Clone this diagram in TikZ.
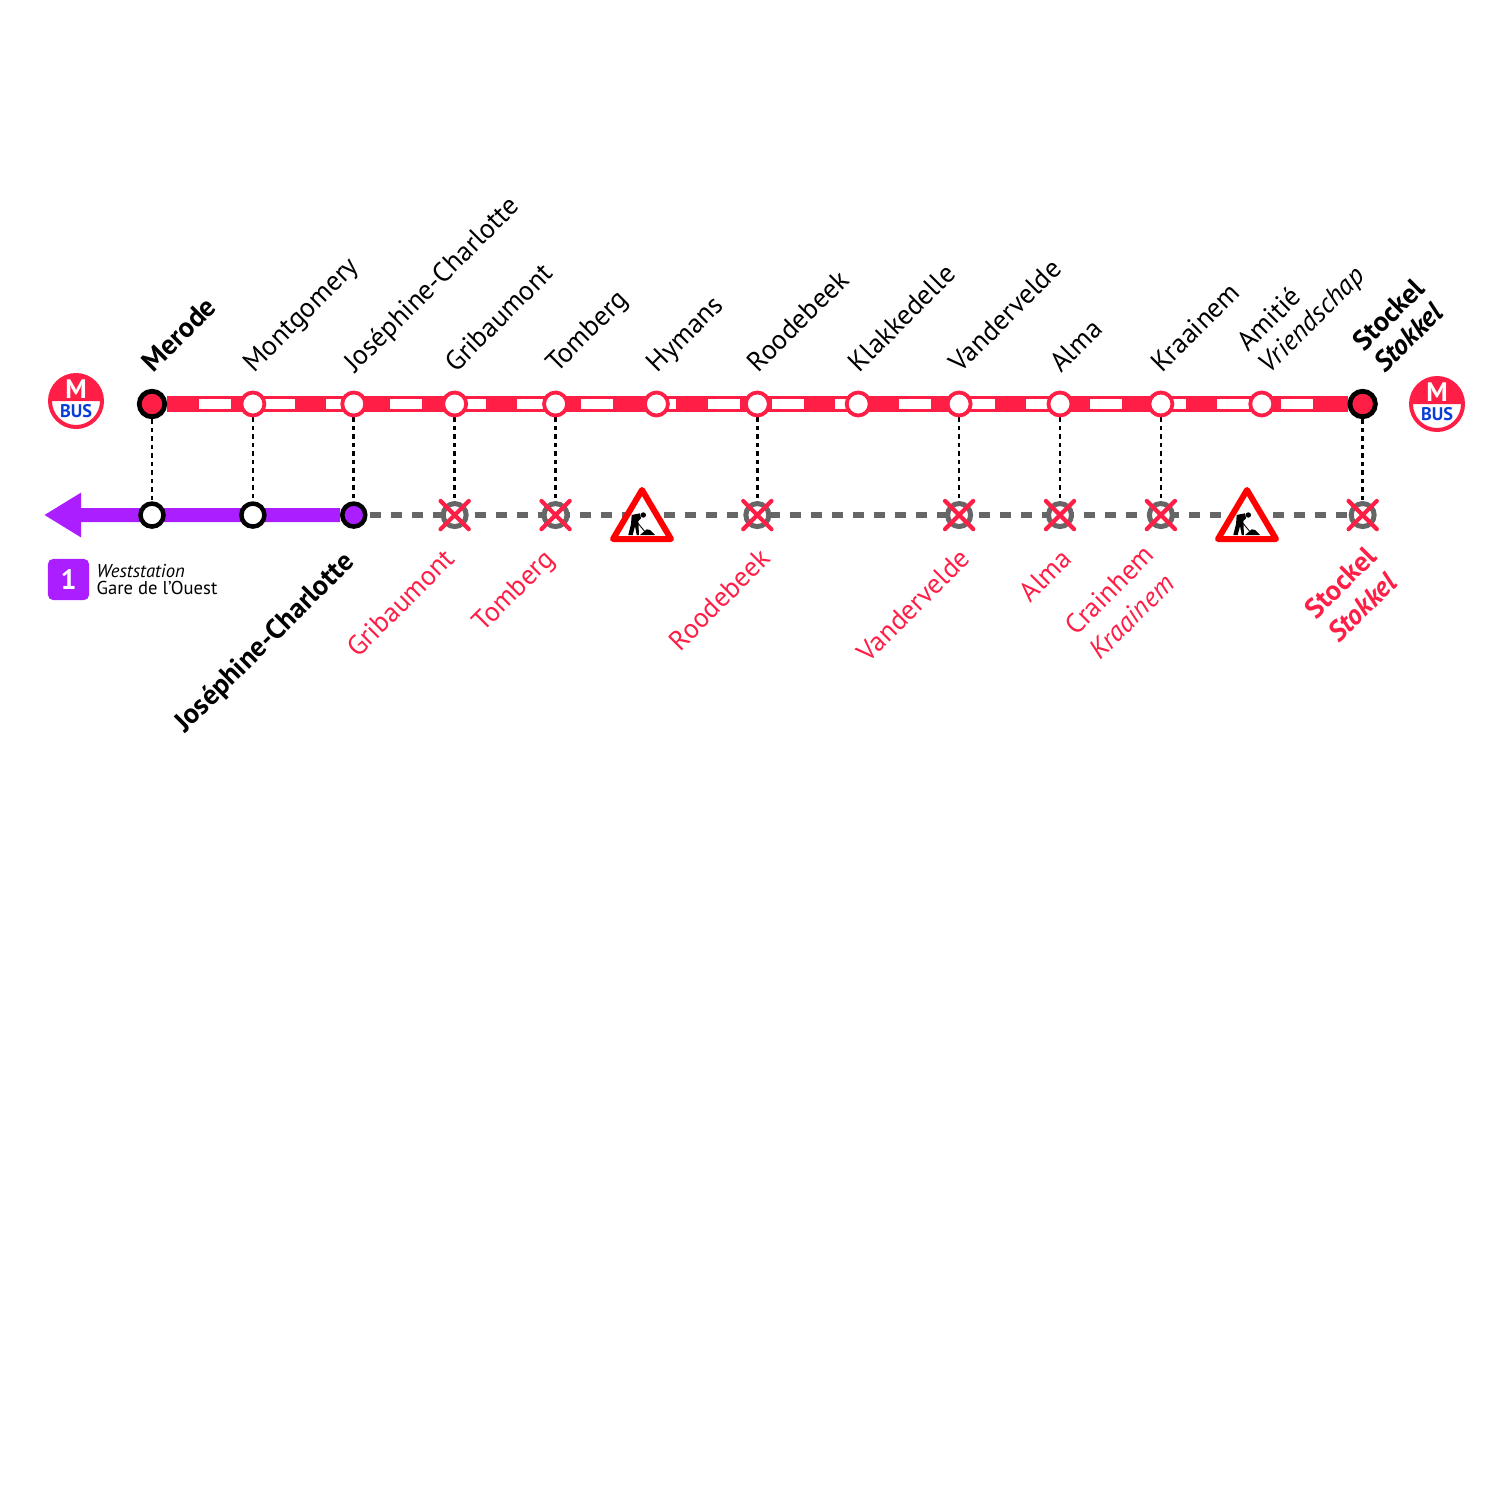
\documentclass[tikz,border=0pt]{standalone}
\usepackage{fontspec}
\setmainfont{PT Sans}
\usetikzlibrary{arrows.meta,positioning,backgrounds,shapes.misc}

\definecolor{linered}{RGB}{255,30,70}
\definecolor{linepurple}{RGB}{170,30,255}
\definecolor{railgrey}{RGB}{102,102,102}
\definecolor{busblue}{RGB}{10,60,215}

\tikzset{
    stop/.style={circle,draw=linered,fill=white,line width=.38mm,minimum size=2.3mm,inner sep=0pt},
    terminus/.style={circle,draw=black,fill=linered,line width=.48mm,minimum size=2.55mm,inner sep=0pt},
    change/.style={circle,draw=black,fill=white,line width=.45mm,minimum size=2.3mm,inner sep=0pt},
    closed/.style={circle,draw=railgrey,fill=white,line width=.5mm,minimum size=2.3mm,inner sep=0pt},
    crossed/.style={cross out,draw=linered,line width=.42mm,line cap=round,minimum size=2.4mm,inner sep=0pt},
    toplabel/.style={rotate=45,anchor=base west,inner sep=0pt,font=\fontsize{7.85}{9}\selectfont},
    twolabel/.style={rotate=45,anchor=south west,inner sep=0pt,align=left,font=\fontsize{7.85}{8.6}\selectfont},
    lowlabel/.style={rotate=45,anchor=base east,inner sep=0pt,text=linered,font=\fontsize{7.85}{9}\selectfont},
    pics/worksign/.style={code={
        \draw[red,fill=white,line width=.6mm,line join=round] (0,-25) -- (29,24) -- (-29,24) -- cycle;
        \fill[black] (1.3,0) circle (.27mm);
        \fill[black] (-10.3,0) -- (-2,-1.7) -- (-1,3.3) -- (-3.7,6) -- (-3,20) -- (-5.3,20) -- (-7,11)
            -- (-9.3,20) -- (-13.7,20) -- (-11,9) -- cycle;
        \draw[black,line width=.09mm] (-5.3,6.7) -- (4,18);
        \fill[black] (-2,20) -- (4.7,14.3) -- (8,15) -- (13,20) -- cycle;
    }},
    pics/metrobus/.style={code={
        \fill[linered] (-27,0) arc[start angle=180,end angle=0,radius=.27cm] -- cycle;
        \draw[linered,line width=.4mm] (0,0) circle (.26cm);
        \node[text=white,font=\fontsize{7.6}{9}\selectfont\bfseries] (#1m) at (0,-12) {M};
        \node[text=busblue,font=\fontsize{5.2}{6}\selectfont\bfseries] (#1b) at (0,10) {BUS};
    }}
}

\begin{document}
\begin{tikzpicture}[x=.01cm,y=-.01cm,node distance=11.1mm and 10.083mm,on grid]

\useasboundingbox (0,0) rectangle (1500,1500);

% upper line
\node[terminus] (s1) at (152,404) {};
\foreach \i/\j in {2/1,3/2,4/3,5/4,6/5,7/6,8/7,9/8,10/9,11/10,12/11}
    \node[stop] (s\i) [right=of s\j] {};
\node[terminus] (s13) [right=of s12] {};

% lower line
\node[change] (b1) [below=of s1] {};
\node[change] (b2) [below=of s2] {};
\node[change,fill=linepurple] (b3) [below=of s3] {};
\foreach \i in {4,5,7,9,10,11,13} {
    \node[closed] (b\i) [below=of s\i] {};
    \node[crossed] (x\i) at (b\i) {};
}
\coordinate (whitefrom) at (199,404);
\coordinate (whiteto) at (1315,404);
\coordinate (arrowtip) at (44,515);

\begin{scope}[on background layer]
    \draw[linered,line width=1.65mm] (s1) -- (s13);
    \draw[white,line width=1mm,dash pattern=on 3.2mm off 3.16mm] (whitefrom) -- (whiteto);
    \draw[linepurple,line width=1.4mm,-{Triangle[length=3.7mm,width=4.2mm]}] (b3) -- (arrowtip);
    \draw[railgrey,line width=.6mm,dash pattern=on 1.1mm off 1mm] (b3.east) ++(2,0) -- (b13);
    \foreach \i in {1,2,3,4,5,7,9,10,11,13}
        \draw[black,line width=.27mm,dash pattern=on .45mm off .4mm] (s\i) -- (b\i);
\end{scope}

\pic at (642,515) {worksign};
\pic at (1247,515) {worksign};
\pic at (76,401) {metrobus=left};
\pic at (1437,404) {metrobus=right};

% upper names
\node[toplabel,font=\fontsize{8}{9}\selectfont\bfseries] (n1) at ([shift={(1,-30)}]s1) {Merode};
\foreach \i/\name in {2/Montgomery,3/Joséphine-Charlotte,4/Gribaumont,5/Tomberg,6/Hymans,7/Roodebeek,8/Klakkedelle,9/Vandervelde,10/Alma,11/Kraainem}
    \node[toplabel] (n\i) at ([shift={(1,-30)}]s\i) {\name};
\node[twolabel] (n12) at ([shift={(12,-25)}]s12) {Amitié\\\itshape Vriendschap};
\node[twolabel,font=\fontsize{8}{8.6}\selectfont\bfseries] (n13) at ([shift={(23,-29)}]s13) {Stockel\\\itshape Stokkel};

% lower names
\node[lowlabel,text=black,font=\fontsize{8}{9}\selectfont\bfseries] (m3) at ([shift={(2,48)}]b3) {Joséphine-Charlotte};
\node[lowlabel] (m4) at ([shift={(2,45)}]b4) {Gribaumont};
\node[lowlabel] (m5) at ([shift={(1,45)}]b5) {Tomberg};
\node[lowlabel] (m7) at ([shift={(15,45)}]b7) {Roodebeek};
\node[lowlabel] (m9) at ([shift={(13,45)}]b9) {Vandervelde};
\node[lowlabel] (m10) at ([shift={(14,45)}]b10) {Alma};
\node[twolabel,text=linered,font=\fontsize{7.85}{9.8}\selectfont] (m11) at ([shift={(-60,147)}]b11) {Crainhem\\\itshape Kraainem};
\node[twolabel,text=linered,font=\fontsize{8}{9.4}\selectfont\bfseries] (m13) at ([shift={(-23,130)}]b13) {Stockel\\\itshape Stokkel};

% legend
\node[fill=linepurple,rounded corners=.5mm,minimum size=4.1mm,inner sep=0pt,text=white,font=\fontsize{8}{9}\selectfont\bfseries] (one) at (68.5,579.5) {1};
\node[anchor=west,inner sep=0pt,align=left,font=\fontsize{5.3}{4.9}\selectfont] (legend) at (96,579.5) {\itshape Weststation\\Gare de l’Ouest};

\end{tikzpicture}
\end{document}
